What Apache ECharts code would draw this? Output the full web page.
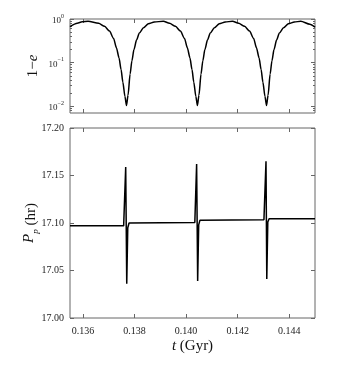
<!DOCTYPE html>
<html>
<head>
<meta charset="utf-8">
<script src="https://cdn.jsdelivr.net/npm/echarts@6/dist/echarts.min.js"></script>
<style>
html, body { margin: 0; padding: 0; background: #fff; }
#chart { width: 350px; height: 375px; }
</style>
</head>
<body>
<div id="chart"></div>
<script>
// time axis ticks (Gyr)
let timeTicks = [0.136, 0.138, 0.140, 0.142, 0.144];
let eMajorTicks = [0.01, 0.1, 1];
let eMinorTicks = [0.008, 0.009, 0.02, 0.03, 0.04, 0.05, 0.06, 0.07, 0.08, 0.09,
    0.2, 0.3, 0.4, 0.5, 0.6, 0.7, 0.8, 0.9];

// top panel: 1-e
let timeE = [
    0.13550, 0.13578, 0.13597, 0.13620, 0.13661, 0.13684, 0.13703, 0.13719, 0.13730, 0.13740,
    0.13748, 0.13755, 0.13763, 0.13769, 0.13775, 0.13783, 0.13790, 0.13798, 0.13808, 0.13819,
    0.13835, 0.13854, 0.13877, 0.13912, 0.13936, 0.13959, 0.13978, 0.13994, 0.14005, 0.14015,
    0.14023, 0.14030, 0.14038, 0.14044, 0.14050, 0.14058, 0.14065, 0.14073, 0.14083, 0.14094,
    0.14110, 0.14129, 0.14152, 0.14180, 0.14204, 0.14227, 0.14246, 0.14262, 0.14273, 0.14283,
    0.14291, 0.14298, 0.14306, 0.14312, 0.14318, 0.14326, 0.14333, 0.14341, 0.14351, 0.14362,
    0.14378, 0.14397, 0.14420, 0.14445, 0.14480, 0.14500
];
let oneMinusE = [
    0.668, 0.80, 0.86, 0.887, 0.80, 0.68, 0.53, 0.36, 0.22, 0.13,
    0.070, 0.036, 0.017, 0.0105, 0.018, 0.055, 0.11, 0.20, 0.33, 0.48,
    0.63, 0.78, 0.855, 0.887, 0.80, 0.68, 0.53, 0.36, 0.22, 0.13,
    0.070, 0.036, 0.017, 0.0105, 0.018, 0.055, 0.11, 0.20, 0.33, 0.48,
    0.63, 0.78, 0.855, 0.887, 0.80, 0.68, 0.53, 0.36, 0.22, 0.13,
    0.070, 0.036, 0.017, 0.0105, 0.018, 0.055, 0.11, 0.20, 0.33, 0.48,
    0.63, 0.78, 0.855, 0.887, 0.76, 0.65
];

// bottom panel: P_p (hr)
let timeP = [
    0.13550, 0.13758, 0.13763, 0.13766, 0.13770, 0.13774, 0.13779,
    0.14034, 0.14038, 0.14041, 0.14045, 0.14049, 0.14054,
    0.14302, 0.14306, 0.14310, 0.14313, 0.14317, 0.14322, 0.14500
];
let periodP = [
    17.097, 17.097, 17.099, 17.159, 17.036, 17.095, 17.100,
    17.1005, 17.102, 17.162, 17.039, 17.098, 17.103,
    17.1035, 17.105, 17.165, 17.041, 17.101, 17.1045, 17.1045
];

let serif = 'Liberation Serif';
let frame = '#666';

function zip(a, b) {
    return a.map(function(v, i) { return [v, b[i]]; });
}

function tickOnly(gridIndex, position, values, len) {
    return {
        type: 'value', gridIndex: gridIndex, position: position,
        min: 0.1355, max: 0.145,
        axisLine: { show: false },
        axisTick: { show: true, inside: true, length: len, customValues: values, lineStyle: { color: frame } },
        axisLabel: { show: false },
        splitLine: { show: false }
    };
}

function logAxis(position, values, len, labels) {
    return {
        type: 'log', gridIndex: 0, position: position,
        min: 0.0071, max: 1,
        axisLine: { show: false },
        axisTick: { show: true, inside: true, length: len, customValues: values, lineStyle: { color: frame } },
        axisLabel: labels ? {
            show: true, customValues: values, margin: 6,
            formatter: function(v) {
                let e = Math.round(Math.log10(v));
                return '{b|10}{sup|' + String(e).replace('-', '\u2212') + '}';
            },
            rich: {
                b: { fontFamily: serif, fontSize: 9, color: '#222', lineHeight: 12, verticalAlign: 'bottom' },
                sup: { fontFamily: serif, fontSize: 6, color: '#222', lineHeight: 12, verticalAlign: 'top' }
            }
        } : { show: false },
        splitLine: { show: false }
    };
}

let chart = echarts.init(document.getElementById('chart'), null, { renderer: 'canvas' });

let option = {
    backgroundColor: '#fff',
    animation: false,
    grid: [
        { left: 70, top: 19, width: 245, height: 94, show: true, borderColor: frame, borderWidth: 1, backgroundColor: 'transparent' },
        { left: 70, top: 128, width: 245, height: 190, show: true, borderColor: frame, borderWidth: 1, backgroundColor: 'transparent' }
    ],
    xAxis: [
        tickOnly(0, 'bottom', timeTicks, 4),
        tickOnly(0, 'top', timeTicks, 4),
        {
            type: 'value', gridIndex: 1, position: 'bottom',
            min: 0.1355, max: 0.145,
            axisLine: { show: false },
            axisTick: { show: true, inside: true, length: 4, customValues: timeTicks, lineStyle: { color: frame } },
            axisLabel: {
                show: true, customValues: timeTicks, margin: 8,
                fontFamily: serif, fontSize: 10, color: '#222',
                formatter: function(v) { return v.toFixed(3); }
            },
            splitLine: { show: false },
            name: '{i|t} (Gyr)',
            nameLocation: 'middle', nameGap: 21, nameMoveOverlap: false,
            nameTextStyle: {
                fontFamily: serif, fontSize: 15, color: '#111',
                rich: { i: { fontFamily: serif, fontSize: 15, fontStyle: 'italic', color: '#111' } }
            }
        },
        tickOnly(1, 'top', timeTicks, 4)
    ],
    yAxis: [
        Object.assign(logAxis('left', eMajorTicks, 4, true), {
            name: '1\u2212{i|e}',
            nameLocation: 'middle', nameGap: 29, nameMoveOverlap: false,
            nameTextStyle: {
                fontFamily: serif, fontSize: 15, color: '#111',
                rich: { i: { fontFamily: serif, fontSize: 15, fontStyle: 'italic', color: '#111' } }
            }
        }),
        logAxis('left', eMinorTicks, 2, false),
        logAxis('right', eMajorTicks, 4, false),
        logAxis('right', eMinorTicks, 2, false),
        {
            type: 'value', gridIndex: 1, position: 'left',
            min: 17, max: 17.2, interval: 0.05,
            axisLine: { show: false },
            axisTick: { show: true, inside: true, length: 4, lineStyle: { color: frame } },
            axisLabel: {
                show: true, margin: 6, fontFamily: serif, fontSize: 10, color: '#222',
                formatter: function(v) { return v.toFixed(2); }
            },
            splitLine: { show: false },
            name: '{i|P}{sub|p} (hr)',
            nameLocation: 'middle', nameGap: 30, nameMoveOverlap: false,
            nameTextStyle: {
                fontFamily: serif, fontSize: 15, color: '#111',
                rich: {
                    i: { fontFamily: serif, fontSize: 15, fontStyle: 'italic', color: '#111', lineHeight: 18, verticalAlign: 'top' },
                    sub: { fontFamily: serif, fontSize: 9, fontStyle: 'italic', color: '#111', lineHeight: 18, verticalAlign: 'bottom' }
                }
            }
        },
        {
            type: 'value', gridIndex: 1, position: 'right',
            min: 17, max: 17.2, interval: 0.05,
            axisLine: { show: false },
            axisTick: { show: true, inside: true, length: 4, lineStyle: { color: frame } },
            axisLabel: { show: false },
            splitLine: { show: false }
        }
    ],
    series: [
        {
            type: 'line', xAxisIndex: 0, yAxisIndex: 0,
            data: zip(timeE, oneMinusE),
            showSymbol: false, smooth: 0.25, smoothMonotone: 'x',
            lineStyle: { color: '#000', width: 1.5 },
            clip: true
        },
        {
            type: 'line', xAxisIndex: 2, yAxisIndex: 4,
            data: zip(timeP, periodP),
            showSymbol: false,
            lineStyle: { color: '#000', width: 1.5 },
            clip: true
        }
    ]
};

chart.setOption(option);
</script>
</body>
</html>
